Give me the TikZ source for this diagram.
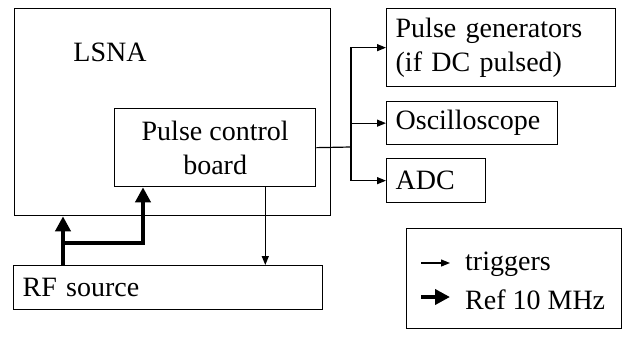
\documentclass[tikz,border=0pt]{standalone}
\usepackage{fontspec}
\setmainfont{Liberation Serif}
\usetikzlibrary{arrows.meta,calc}

\begin{document}
\begin{tikzpicture}[
    x=1pt, y=-1pt,
    font=\fontsize{28}{34}\selectfont,
    unit/.style={draw, line width=1.3pt, anchor=north west, inner xsep=9pt, inner ysep=0pt, align=left},
    txt/.style={inner sep=0pt},
    trig/.style={line width=1.2pt, -{Triangle[length=9pt,width=7pt]}},
    refline/.style={line width=4pt, -{Triangle[length=15pt,width=15pt]}},
]
\useasboundingbox (0,0) rectangle (627,338);

% LSNA and pulse board
\node[unit,minimum width=316pt,minimum height=207pt] (lsna) at (14,8) {};
\node[txt,anchor=base] (lsnatxt) at (110,61) {LSNA};
\node[unit,align=center,minimum width=201pt,minimum height=78pt] (board) at (114,108) {Pulse control\\board};

% Triggered instruments
\node[unit,text width=211pt,minimum height=78pt] (pg) at (386,8) {Pulse generators\\(if DC pulsed)};
\node[unit,text width=153pt,minimum height=43pt] (osc) at (386,101) {Oscilloscope};
\node[unit,text width=81pt,minimum height=44pt] (adc) at (386,158) {ADC};

% RF source
\node[unit,text width=291pt,minimum height=44pt] (rf) at (13,265) {RF source};

% Legend
\node[unit,minimum width=215pt,minimum height=100pt] (legend) at (406,228) {};
\node[txt,anchor=base west] (trigtxt) at (465,270) {triggers};
\node[txt,anchor=base west] (reftxt) at (465,309) {Ref 10 MHz};
\coordinate (trigA) at (421,263);
\coordinate (trigB) at (450,263);
\coordinate (refA) at (421,297);
\coordinate (refB) at (450,297);
\draw[trig] (trigA) -- (trigB);
\draw[refline] (refA) -- (refB);

% Trigger lines
\coordinate (split) at (351,147);
\draw[line width=1.2pt] (board.east) -- (split);
\draw[trig] (split) |- (pg.west);
\draw[trig] (split) |- (osc.west);
\draw[trig] (split) |- (adc.west);
\coordinate (boardout) at ($(board.south east)+(-51,0)$);
\draw[trig] (boardout) -- (boardout |- rf.north);

% Reference 10 MHz
\coordinate (reftap) at (63,243);
\coordinate (boardin) at ($(board.south west)+(29,0)$);
\draw[refline] (reftap |- rf.north) -- (reftap |- lsna.south);
\draw[refline] (reftap) -| (boardin);

\end{tikzpicture}
\end{document}
